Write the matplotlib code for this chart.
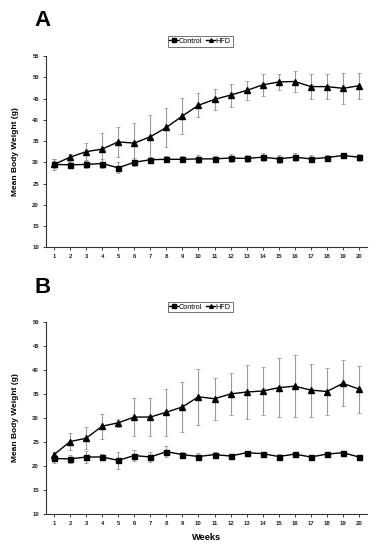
import numpy as np
import matplotlib
matplotlib.use('Agg')
import matplotlib.pyplot as plt

plt.rcParams['font.family'] = ['Liberation Sans', 'DejaVu Sans']

weeks = np.arange(1, 21)

# Panel A
a_control = [29.5, 29.4, 29.5, 29.7, 28.7, 30.0, 30.6, 30.7, 30.7, 30.8,
             30.8, 31.0, 30.9, 31.2, 30.8, 31.2, 30.8, 31.1, 31.6, 31.2]
a_control_err = [1.3, 0.6, 0.9, 1.0, 1.3, 0.9, 0.7, 0.7, 0.7, 1.0,
                 0.7, 0.9, 0.8, 1.0, 0.9, 0.9, 0.8, 0.6, 0.7, 0.8]
a_hfd = [29.5, 31.2, 32.5, 33.1, 34.8, 34.5, 36.0, 38.2, 40.9, 43.4,
         44.8, 45.8, 46.9, 48.2, 48.9, 49.0, 47.8, 47.8, 47.4, 48.0]
a_hfd_err = [1.3, 0.8, 2.0, 3.9, 3.6, 4.8, 5.1, 4.5, 4.2, 2.8,
             2.5, 2.7, 2.3, 2.5, 1.8, 2.5, 3.0, 2.9, 3.7, 3.1]

# Panel B
b_control = [21.6, 21.5, 21.9, 21.9, 21.2, 22.2, 21.9, 23.0, 22.4, 22.0,
             22.4, 22.1, 22.8, 22.6, 22.0, 22.5, 21.9, 22.5, 22.8, 21.9]
b_control_err = [1.0, 0.9, 1.2, 0.6, 1.7, 1.2, 1.1, 1.2, 0.5, 0.8,
                 0.6, 0.3, 0.3, 0.3, 0.6, 0.4, 0.3, 0.4, 0.3, 0.4]
b_hfd = [22.4, 25.1, 25.8, 28.3, 29.0, 30.2, 30.2, 31.2, 32.3, 34.4,
         34.0, 35.0, 35.4, 35.6, 36.3, 36.6, 35.8, 35.5, 37.2, 36.0]
b_hfd_err = [0.5, 1.8, 2.3, 2.6, 0.8, 3.9, 3.9, 4.9, 5.2, 5.8,
             4.4, 4.4, 5.7, 5.0, 6.1, 6.4, 5.5, 4.9, 4.8, 4.9]

W, H = 383, 550
fig = plt.figure(figsize=(W / 100, H / 100), dpi=100)


def panel(rect, control, control_err, hfd, hfd_err, ymax, letter, letter_y, xlabel):
    ax = fig.add_axes(rect)
    for mean, err in [(hfd, hfd_err), (control, control_err)]:
        ax.errorbar(weeks, mean, yerr=err, fmt='none', ecolor='#9a9a9a',
                    elinewidth=0.8, capsize=1.3, capthick=0.6, zorder=2)
    ax.plot(weeks, control, color='black', marker='s', markersize=3.6,
            linewidth=1.0, label='Control', zorder=3)
    ax.plot(weeks, hfd, color='black', marker='^', markersize=3.8,
            linewidth=1.0, label='HFD', zorder=3)
    ax.set_xlim(0.5, 20.5)
    ax.set_ylim(10, ymax)
    ax.set_xticks(weeks)
    ax.set_yticks(np.arange(10, ymax + 1, 5))
    for s in ['top', 'right']:
        ax.spines[s].set_visible(False)
    for s in ['left', 'bottom']:
        ax.spines[s].set_linewidth(0.8)
        ax.spines[s].set_color('#333333')
    ax.tick_params(length=2, width=0.6, labelsize=4.3, pad=3, colors='#222222')
    for lab in ax.get_xticklabels() + ax.get_yticklabels():
        lab.set_fontweight('bold')
    ax.set_ylabel('Mean Body Weight (g)', fontsize=6, fontweight='bold')
    ax.yaxis.set_label_coords(-0.085, 0.5)
    if xlabel:
        ax.set_xlabel('Weeks', fontsize=6.7, fontweight='bold')
        ax.xaxis.set_label_coords(0.5, -0.095)
    leg = ax.legend(loc='lower center', bbox_to_anchor=(0.48, 1.03), ncol=2,
                    fontsize=5.2, frameon=True, fancybox=False, handlelength=1.2,
                    handletextpad=0.1, columnspacing=0.6, borderpad=0.25,
                    markerscale=0.7)
    leg.get_frame().set_edgecolor('#333333')
    leg.get_frame().set_linewidth(0.6)
    fig.text(34 / W, letter_y, letter, fontsize=16, fontweight='bold',
             ha='left', va='center')
    return ax


panel([46 / W, 1 - 247.3 / H, 321 / W, 191.3 / H],
      a_control, a_control_err, a_hfd, a_hfd_err, 55, 'A', 1 - 20 / H, False)
panel([46 / W, 1 - 514.3 / H, 321 / W, 192.6 / H],
      b_control, b_control_err, b_hfd, b_hfd_err, 50, 'B', 1 - 287.5 / H, True)

fig.savefig('out.png', dpi=100)
